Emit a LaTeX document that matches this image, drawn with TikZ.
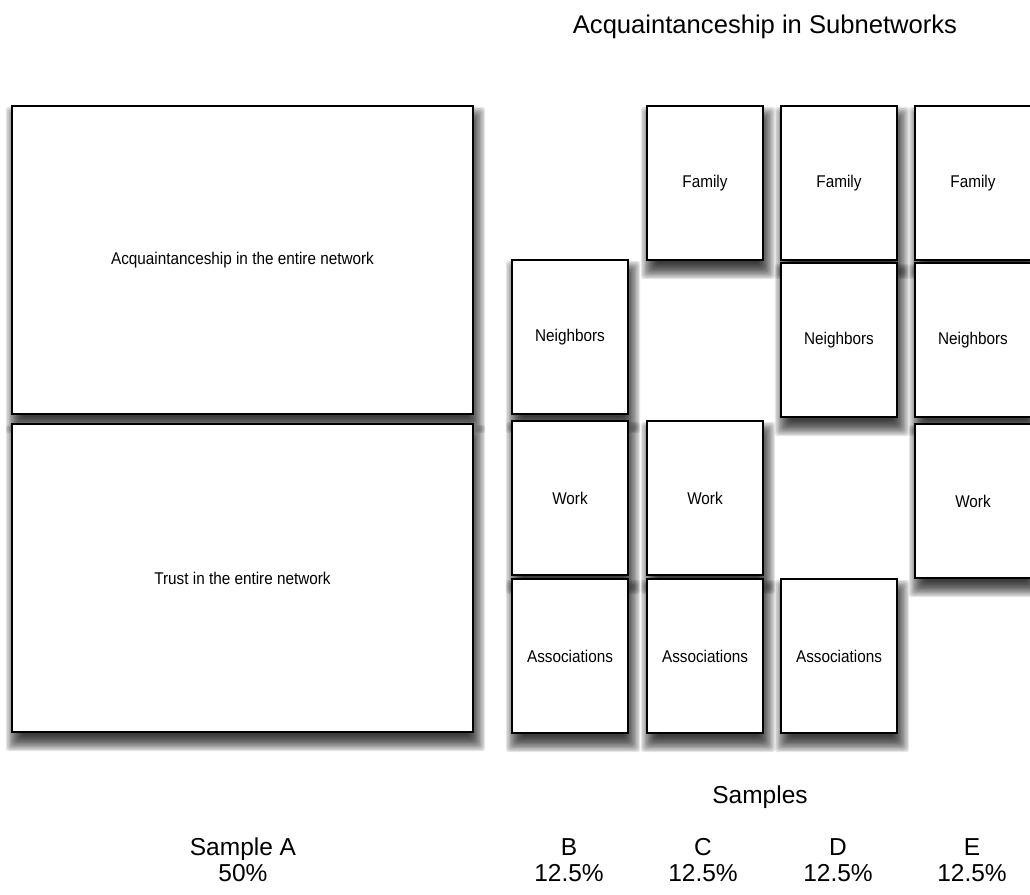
\documentclass[tikz,border=0pt]{standalone}
\usepackage{fontspec}
\setmainfont{Liberation Sans}
\newfontfamily\boxfont[FakeStretch=0.9]{Liberation Sans}
\pgfdeclarelayer{background}
\pgfsetlayers{background,main}
\tikzset{
  box/.style={draw=black, line width=1.8pt, fill=white, anchor=north west,
    inner sep=0pt, outer sep=0pt,
    font=\boxfont\fontsize{17}{20}\selectfont},
  bigbox/.style={box, minimum width=461pt, minimum height=308pt},
  smallbox/.style={box, minimum width=116pt, minimum height=154pt},
  title/.style={font=\fontsize{25.6}{30}\selectfont},
  samplelabel/.style={font=\fontsize{24.5}{26}\selectfont, align=center},
  shadowring/.style={fill=black, opacity=0.1, rounded corners=3pt}
}
\newcommand\softshadow[1]{%
  \foreach \k in {0,...,12}{%
    \pgfmathsetmacro\g{-7+1.35*\k}%
    \pgfmathsetmacro\ax{3-\g}%
    \pgfmathsetmacro\ay{-10+\g}%
    \pgfmathsetmacro\bx{3+\g}%
    \pgfmathsetmacro\by{-10-\g}%
    \fill[shadowring] ([xshift=\ax pt, yshift=\ay pt]#1.north west) rectangle ([xshift=\bx pt, yshift=\by pt]#1.south east);
  }%
}
\begin{document}
\begin{tikzpicture}[x=1pt,y=-1pt]
\useasboundingbox (0,0) rectangle (1030,894);
% big boxes (sample A)
\node[bigbox] (acq) at (12,106) {Acquaintanceship in the entire network};
\node[bigbox] (trust) at (12,424) {Trust in the entire network};
% column B
\node[smallbox] (bN) at (512,260) {Neighbors};
\node[smallbox] (bW) at (512,421) {Work};
\node[smallbox] (bA) at (512,579) {Associations};
% column C
\node[smallbox] (cF) at (647,106) {Family};
\node[smallbox] (cW) at (647,421) {Work};
\node[smallbox] (cA) at (647,579) {Associations};
% column D
\node[smallbox] (dF) at (781,106) {Family};
\node[smallbox] (dN) at (781,263) {Neighbors};
\node[smallbox] (dA) at (781,579) {Associations};
% column E
\node[smallbox] (eF) at (915,106) {Family};
\node[smallbox] (eN) at (915,263) {Neighbors};
\node[smallbox] (eW) at (915,424) {Work};
% background and shadows
\begin{pgfonlayer}{background}
\fill[white] (0,0) rectangle (1030,894);
\foreach \n in {acq,trust,bN,bW,bA,cF,cW,cA,dF,dN,dA,eF,eN,eW}{\softshadow{\n}}
\end{pgfonlayer}
% texts
\node[title] (ttl) at (765,27) {Acquaintanceship in Subnetworks};
\node[title, font=\fontsize{24.5}{26}\selectfont] (smp) at (760,797) {Samples};
\node[samplelabel] (sA) at (243,860) {Sample A\\50\%};
\node[samplelabel] (sB) at (569,860) {B\\12.5\%};
\node[samplelabel] (sC) at (703,860) {C\\12.5\%};
\node[samplelabel] (sD) at (838,860) {D\\12.5\%};
\node[samplelabel] (sE) at (972,860) {E\\12.5\%};
\end{tikzpicture}
\end{document}
